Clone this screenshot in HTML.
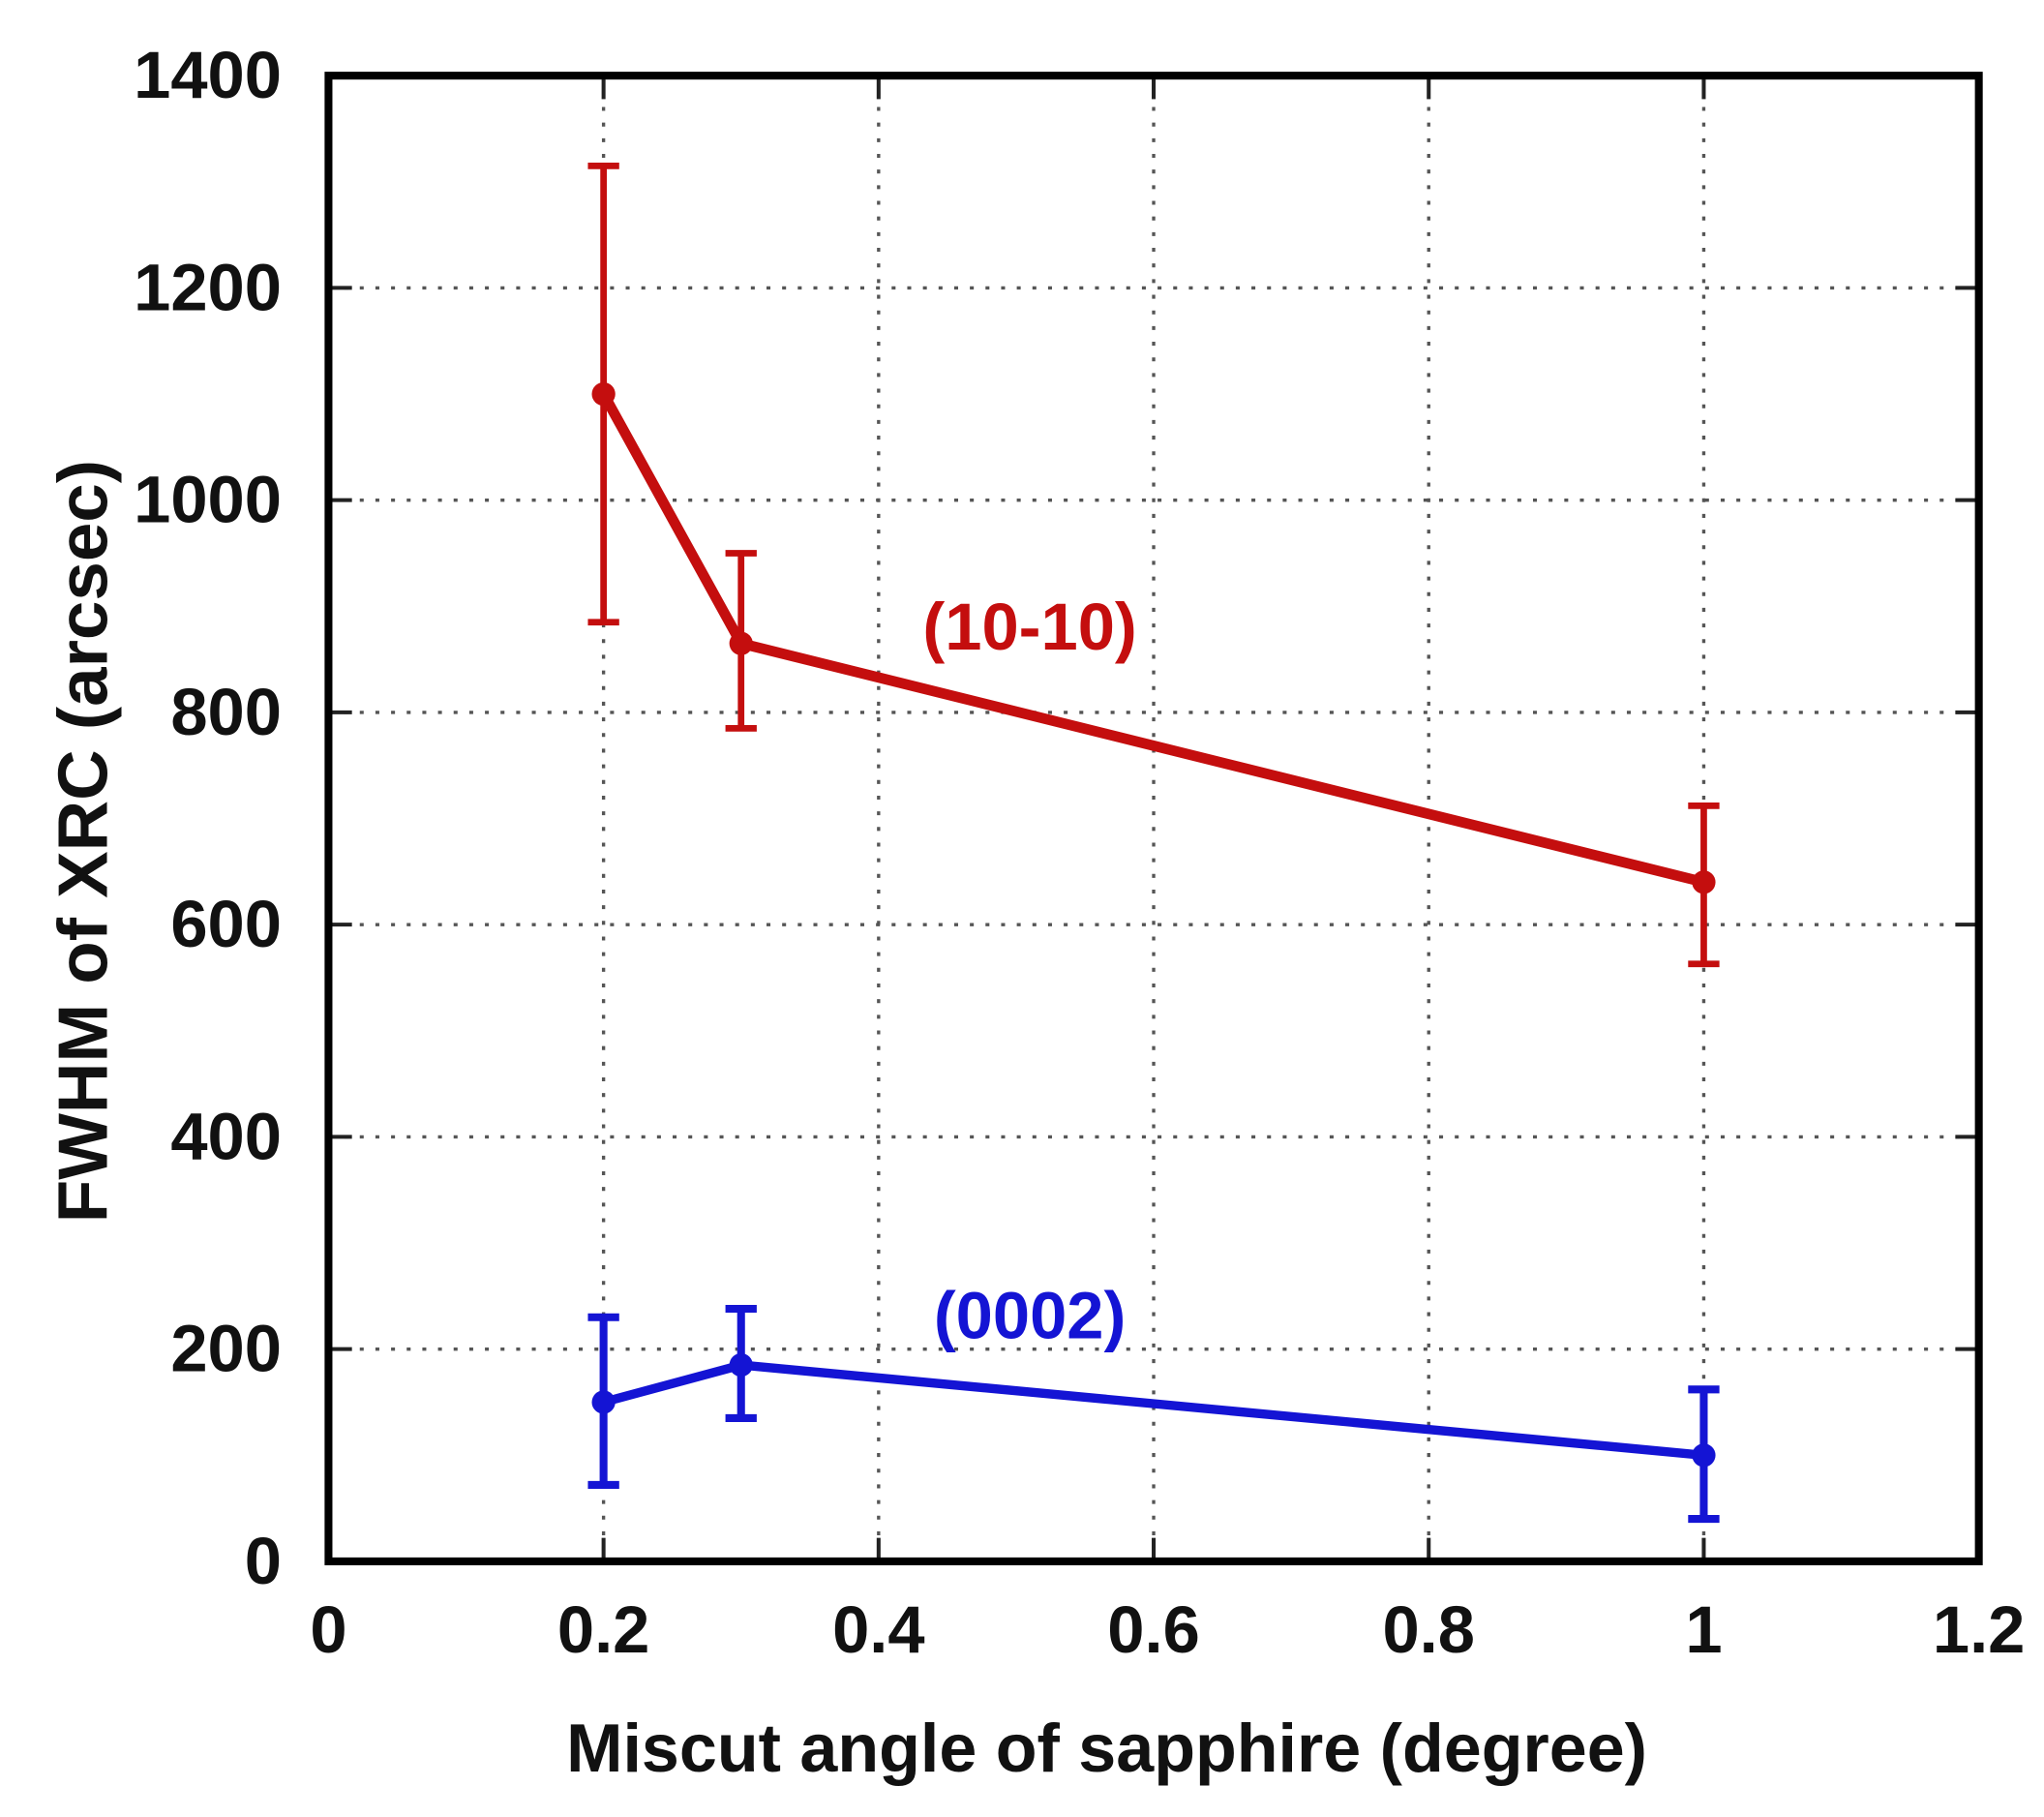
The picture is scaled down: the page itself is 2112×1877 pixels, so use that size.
<!DOCTYPE html>
<html><head><meta charset="utf-8"><style>
html,body{margin:0;padding:0;background:#fff}
svg{display:block}
text{font-family:"Liberation Sans",Arial,sans-serif;font-weight:bold}
</style></head><body>
<svg id="chart" width="2112" height="1877" viewBox="0 0 1568 1393" preserveAspectRatio="none" xmlns="http://www.w3.org/2000/svg"></svg>
<script>
const xTicks=[0,0.2,0.4,0.6,0.8,1,1.2];
const xTickLabels=["0","0.2","0.4","0.6","0.8","1","1.2"];
const yTicks=[0,200,400,600,800,1000,1200,1400];
const yTickLabels=["0","200","400","600","800","1000","1200","1400"];
const xVals=[0.2,0.3,1.0];
const redY=[1100,865,640];
const redLo=[885,785,563];
const redHi=[1315,950,712];
const blueY=[150,185,100];
const blueLo=[72,135,40];
const blueHi=[230,238,162];

const L=252,R=1518,T=58,B=1197;
const sx=v=>L+(v-0)/(1.2-0)*(R-L);
const sy=v=>B-(v-0)/(1400-0)*(B-T);
const svg=document.getElementById('chart');
const NS='http://www.w3.org/2000/svg';
function mk(tag,attrs,parent){const e=document.createElementNS(NS,tag);for(const k in attrs)e.setAttribute(k,attrs[k]);(parent||svg).appendChild(e);return e;}

yTicks.forEach((t,i)=>{
  if(i>0&&i<yTicks.length-1){
    const g=mk('line',{x1:L,x2:R,y1:sy(t),y2:sy(t),stroke:'#555','stroke-width':2.5,'stroke-dasharray':'3 9'});
    
    
    mk('line',{x1:L,x2:L+18,y1:sy(t),y2:sy(t),stroke:'#222','stroke-width':3});
    mk('line',{x1:R-18,x2:R,y1:sy(t),y2:sy(t),stroke:'#222','stroke-width':3});
  }
  const lab=mk('text',{x:L-36,y:sy(t)+17,'text-anchor':'end','font-size':51,fill:'#111'});
  lab.textContent=yTickLabels[i];
  
  
});
xTicks.forEach((t,i)=>{
  if(i>0&&i<xTicks.length-1){
    const g=mk('line',{x1:sx(t),x2:sx(t),y1:T,y2:B,stroke:'#555','stroke-width':2.5,'stroke-dasharray':'3 9'});
    
    
    mk('line',{x1:sx(t),x2:sx(t),y1:B-18,y2:B,stroke:'#222','stroke-width':3});
    mk('line',{x1:sx(t),x2:sx(t),y1:T,y2:T+18,stroke:'#222','stroke-width':3});
  }
  const lab=mk('text',{x:sx(t),y:B+70,'text-anchor':'middle','font-size':51,fill:'#111'});
  lab.textContent=xTickLabels[i];
  
  
});

function series(ys,lo,hi,color,ew,lw,name){
  const g=mk('g',{});
  
  
  xVals.forEach((x,i)=>{
    const cx=sx(x);
    const eb=mk('path',{d:`M${cx},${sy(lo[i])}V${sy(hi[i])}M${cx-12},${sy(lo[i])}H${cx+12}M${cx-12},${sy(hi[i])}H${cx+12}`,stroke:color,'stroke-width':ew,fill:'none'},g);
    
    
  });
  const pts=xVals.map((x,i)=>sx(x)+','+sy(ys[i])).join(' ');
  const pl=mk('polyline',{points:pts,stroke:color,'stroke-width':lw,fill:'none','stroke-linejoin':'round'},g);
  
  
  xVals.forEach((x,i)=>{
    const c=mk('circle',{cx:sx(x),cy:sy(ys[i]),r:9,fill:color},g);
    
    
  });
}
series(redY,redLo,redHi,'#c40e0e',5,8,'red-10-10');
series(blueY,blueLo,blueHi,'#1414d4',6,7,'blue-0002');

const fr=mk('rect',{x:L,y:T,width:R-L,height:B-T,fill:'none',stroke:'#000','stroke-width':6});



const a=mk('text',{x:790,y:498,'text-anchor':'middle','font-size':51,fill:'#c40e0e'});
a.textContent='(10-10)';


const b=mk('text',{x:790,y:1026,'text-anchor':'middle','font-size':51,fill:'#1414d4'});
b.textContent='(0002)';



const xt=mk('text',{x:849,y:1358,'text-anchor':'middle','font-size':52,fill:'#111'});
xt.textContent='Miscut angle of sapphire (degree)';


const yt=mk('text',{x:0,y:0,'text-anchor':'middle','font-size':54,fill:'#111',transform:'translate(82,645) rotate(-90)'});
yt.textContent='FWHM of XRC (arcsec)';


</script>
</body></html>
